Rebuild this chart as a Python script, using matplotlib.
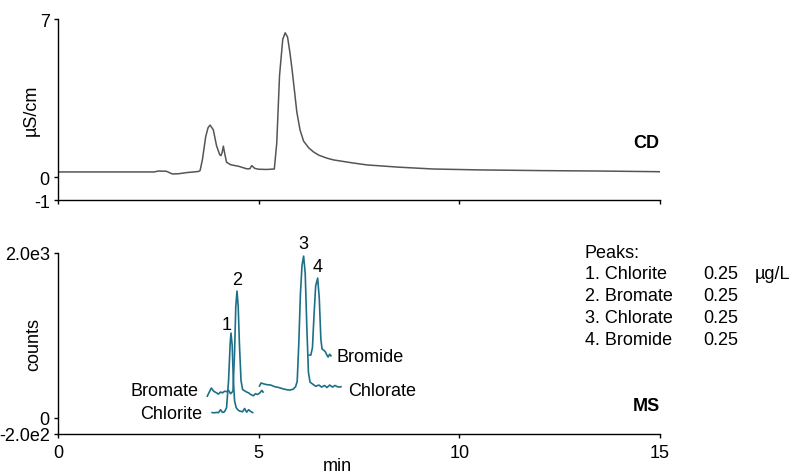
import matplotlib
matplotlib.use("Agg")
import matplotlib.pyplot as plt

plt.rcParams['font.family'] = ['Liberation Sans', 'DejaVu Sans']

# ---- CD trace (min, uS/cm)
cd_t = [0.0, 2.4, 2.5, 2.7, 2.85, 3.0, 3.2, 3.5, 3.54, 3.6, 3.68, 3.74, 3.79, 3.87, 3.95, 4.03, 4.06,
        4.09, 4.12, 4.16, 4.2, 4.3, 4.5, 4.7, 4.78, 4.83, 4.9, 5.0, 5.2, 5.39, 5.45, 5.52, 5.6,
        5.66, 5.72, 5.78, 5.83, 5.9, 5.95, 6.03, 6.12, 6.25, 6.37, 6.5, 6.7, 6.87, 7.3, 7.7, 8.5,
        9.35, 10.5, 12.0, 13.5, 15.0]
cd_v = [0.24, 0.24, 0.28, 0.27, 0.15, 0.16, 0.21, 0.26, 0.3, 0.8, 1.8, 2.2, 2.31, 2.1, 1.4, 1.0, 0.96,
        1.1, 1.38, 1.0, 0.67, 0.56, 0.49, 0.38, 0.38, 0.52, 0.4, 0.36, 0.35, 0.37, 1.5, 4.5, 6.1,
        6.39, 6.2, 5.5, 4.8, 3.7, 2.9, 2.1, 1.6, 1.3, 1.12, 0.98, 0.85, 0.77, 0.65, 0.55, 0.45,
        0.37, 0.33, 0.3, 0.28, 0.25]

# ---- MS traces (min, counts)
chlorite_t = [3.84, 3.9, 3.95, 4.0, 4.05, 4.1, 4.15, 4.2, 4.25, 4.29, 4.31, 4.34, 4.37, 4.4, 4.44,
              4.48, 4.52, 4.56, 4.6, 4.65, 4.7, 4.75, 4.8, 4.85]
chlorite_v = [60, 58, 62, 60, 95, 62, 70, 120, 450, 900, 1027, 880, 450, 200, 120,
              95, 80, 75, 70, 110, 65, 95, 75, 60]

bromate_t = [3.72, 3.78, 3.82, 3.88, 3.95, 4.0, 4.05, 4.1, 4.15, 4.2, 4.25, 4.3, 4.36, 4.4, 4.43,
             4.46, 4.49, 4.52, 4.56, 4.6, 4.65, 4.7, 4.75, 4.8, 4.87, 4.92, 4.97, 5.03, 5.08, 5.11]
bromate_v = [260, 320, 358, 320, 300, 285, 310, 300, 320, 315, 330, 290, 320, 800, 1350,
             1537, 1350, 900, 450, 340, 325, 310, 300, 280, 265, 290, 280, 300, 330, 310]

chlorate_t = [5.02, 5.06, 5.12, 5.2, 5.3, 5.4, 5.5, 5.6, 5.7, 5.78, 5.86, 5.92, 5.96, 6.0, 6.04,
              6.08, 6.12, 6.16, 6.2, 6.24, 6.28, 6.35, 6.42, 6.5, 6.57, 6.64, 6.7, 6.77, 6.84,
              6.9, 6.96, 7.02, 7.05]
chlorate_v = [383, 420, 410, 400, 395, 375, 365, 350, 338, 334, 345, 375, 440, 900, 1500,
              1850, 1962, 1750, 1100, 550, 430, 405, 380, 395, 370, 390, 365, 395, 370,
              390, 375, 370, 375]

bromide_t = [6.26, 6.3, 6.34, 6.38, 6.42, 6.47, 6.51, 6.55, 6.58, 6.62, 6.66, 6.7, 6.73, 6.77, 6.8]
bromide_v = [759, 760, 850, 1250, 1600, 1695, 1450, 950, 832, 820, 800, 760, 735, 770, 750]

peak_nums = ['1', '2', '3', '4']
peak_label_t = [4.21, 4.46, 6.11, 6.46]
peak_label_v = [1136, 1677, 2120, 1831]

trace_names = ['Bromide', 'Chlorate', 'Bromate', 'Chlorite']
trace_label_t = [6.93, 7.22, 3.50, 3.60]
trace_label_v = [739, 334, 326, 51]
trace_label_ha = ['left', 'left', 'right', 'right']

table_names = ['1. Chlorite', '2. Bromate', '3. Chlorate', '4. Bromide']
table_conc = ['0.25', '0.25', '0.25', '0.25']
table_unit = 'µg/L'

W, H = 794, 477
fig = plt.figure(figsize=(W / 100, H / 100), dpi=100)

def ax_rect(l, t, r, b):
    return [l / W, 1 - b / H, (r - l) / W, (b - t) / H]

teal = '#1d6f88'
grey = '#555555'
fs = 13

ax1 = fig.add_axes(ax_rect(58, 20, 660, 201))
ax2 = fig.add_axes(ax_rect(58, 254, 660, 435))

for ax in (ax1, ax2):
    for s in ('top', 'right'):
        ax.spines[s].set_visible(False)
    for s in ('left', 'bottom'):
        ax.spines[s].set_linewidth(1.0)
    ax.set_xlim(0, 15)
    ax.set_xticks([0, 5, 10, 15])
    ax.tick_params(direction='out', length=3, width=1, labelsize=fs, pad=3)
ax2.tick_params(axis='x', pad=4)

ax1.plot(cd_t, cd_v, color=grey, lw=1.1)
ax1.set_ylim(-1, 7)
ax1.set_yticks([-1, 0, 7])
ax1.set_yticklabels(['-1', '0', '7'])
ax1.set_xticklabels([])
ax1.set_ylabel('µS/cm', fontsize=fs, va='center')
ax1.yaxis.set_label_coords((31.5 - 58) / 602, 0.5)

for t, v in [(chlorite_t, chlorite_v), (bromate_t, bromate_v),
             (chlorate_t, chlorate_v), (bromide_t, bromide_v)]:
    ax2.plot(t, v, color=teal, lw=1.2)
ax2.set_ylim(-200, 2000)
ax2.set_yticks([-200, 0, 2000])
ax2.set_yticklabels(['-2.0e2', '0', '2.0e3'])
ax2.set_xticklabels(['0', '5', '10', '15'])
ax2.set_ylabel('counts', fontsize=fs, va='center')
ax2.yaxis.set_label_coords((33.5 - 58) / 602, 0.5)
ax2.set_xlabel('min', fontsize=fs, va='center')
ax2.xaxis.set_label_coords((337 - 58) / 602, -(467 - 435) / 181)

for n, t, v in zip(peak_nums, peak_label_t, peak_label_v):
    ax2.text(t, v, n, fontsize=fs, ha='center', va='center', clip_on=False)
for n, t, v, ha in zip(trace_names, trace_label_t, trace_label_v, trace_label_ha):
    ax2.text(t, v, n, fontsize=fs, ha=ha, va='center', clip_on=False)

def ftext(x, y, s, **kw):
    fig.text(x / W, 1 - y / H, s, fontsize=fs, va='center', **kw)

ftext(585, 253.5, 'Peaks:')
row_y0, row_dy = 274.5, 22.0
for i, (n, c) in enumerate(zip(table_names, table_conc)):
    y = row_y0 + i * row_dy
    ftext(585, y, n)
    ftext(703, y, c)
ftext(755, row_y0, table_unit)
ftext(633, 143, 'CD', fontweight='bold')
ftext(633, 407, 'MS', fontweight='bold')

fig.savefig('out.png', dpi=100)
